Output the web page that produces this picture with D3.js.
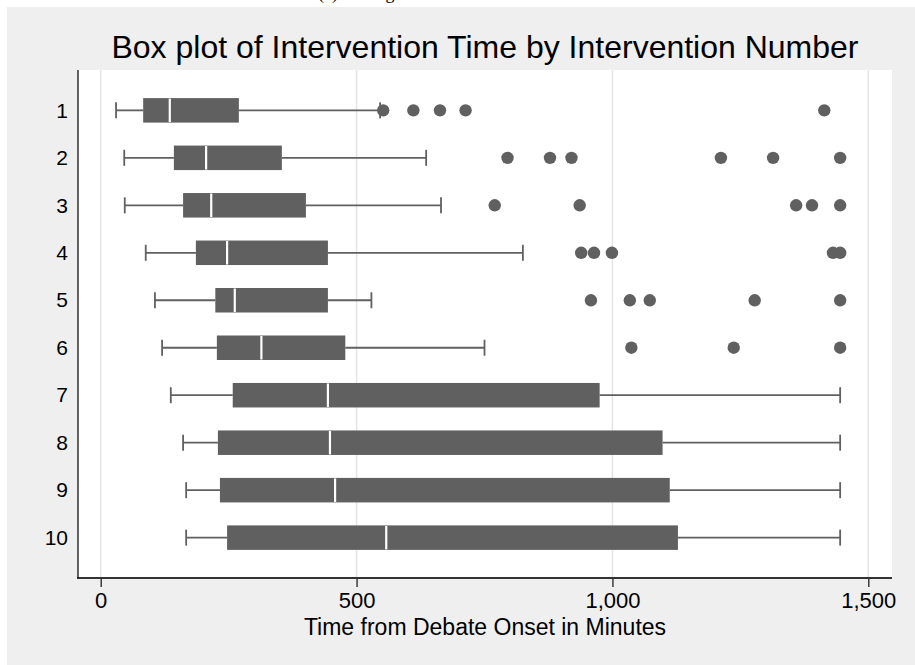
<!DOCTYPE html>
<html>
<head>
<meta charset="utf-8">
<script src="https://cdn.jsdelivr.net/npm/d3@7"></script>
<style>
  html, body { margin: 0; padding: 0; background: #ffffff; }
  svg { display: block; }
  text { font-family: "Liberation Sans", Arial, Helvetica, sans-serif; fill: #000; }
</style>
</head>
<body>
<svg id="chart" width="915" height="665"></svg>
<script>
// Intervention number (one box per row)
const groups = ["1", "2", "3", "4", "5", "6", "7", "8", "9", "10"];
// Five-number summaries, minutes from debate onset
const lowerWhisker = [30, 46, 47, 88, 106, 120, 137, 161, 167, 167];
const q1 = [83, 143, 161, 186, 224, 227, 258, 229, 233, 247];
const median = [135, 206, 216, 247, 262, 314, 444, 448, 458, 558];
const q3 = [270, 354, 401, 444, 444, 478, 975, 1098, 1112, 1128];
const upperWhisker = [546, 636, 665, 825, 529, 750, 1445, 1445, 1445, 1445];
// Outside values per intervention number
const outliers = [
  [552, 611, 663, 713, 1414],
  [795, 878, 920, 1212, 1314, 1445],
  [770, 936, 1359, 1390, 1445],
  [939, 964, 999, 1431, 1445],
  [958, 1034, 1073, 1278, 1445],
  [1037, 1237, 1445],
  [], [], [], []
];
const xTicks = [0, 500, 1000, 1500];

const W = 915, H = 665;
const plot = { left: 78, right: 892, top: 70, bottom: 578 };
const boxColor = "#606060";

const svg = d3.select("#chart");

// figure background (grey panel) with the plot region in white
svg.append("rect").attr("x", 7).attr("y", 7).attr("width", W - 7).attr("height", H - 7)
  .attr("fill", "#efefef");
svg.append("rect").attr("x", plot.left).attr("y", plot.top)
  .attr("width", plot.right - plot.left).attr("height", plot.bottom - plot.top)
  .attr("fill", "#ffffff");

// caption of the page above the figure (only its lowest strokes fall inside the frame)
svg.append("text").attr("x", 318).attr("y", -1.5)
  .style("font-family", "'Liberation Serif', 'Times New Roman', serif")
  .style("font-size", "18px")
  .text("(c) Timing");

const x = d3.scaleLinear().domain([0, 1500]).range([100.7, 868.3]);
const y = d3.scaleLinear().domain([0.15, 10.85]).range([plot.top, plot.bottom]);

// vertical grid lines
svg.append("g").selectAll("line").data(xTicks).join("line")
  .attr("x1", d => x(d)).attr("x2", d => x(d))
  .attr("y1", plot.top).attr("y2", plot.bottom)
  .attr("stroke", "#e4e4e4").attr("stroke-width", 1.5);

// x axis
const xAxis = d3.axisBottom(x).tickValues(xTicks).tickSize(9).tickPadding(5)
  .tickFormat(d3.format(","));
const gx = svg.append("g").attr("transform", `translate(0,${plot.bottom})`).call(xAxis);
gx.select(".domain").remove();
gx.selectAll(".tick line").attr("stroke", "#222").attr("stroke-width", 1.3);
gx.selectAll(".tick text").style("font-size", "22px").attr("fill", "#000")
  .style("font-family", "'Liberation Sans', Arial, sans-serif");
svg.append("line").attr("x1", plot.left - 1).attr("x2", plot.right)
  .attr("y1", plot.bottom).attr("y2", plot.bottom)
  .attr("stroke", "#333").attr("stroke-width", 1.8);

// y axis (category labels, no tick marks)
const yAxis = d3.axisLeft(y).tickValues(d3.range(1, 11)).tickSize(0).tickPadding(10)
  .tickFormat(d => groups[d - 1]);
const gy = svg.append("g").attr("transform", `translate(${plot.left},0)`).call(yAxis);
gy.select(".domain").remove();
gy.selectAll(".tick text").style("font-size", "21px").attr("fill", "#000")
  .style("font-family", "'Liberation Sans', Arial, sans-serif");
svg.append("line").attr("x1", plot.left).attr("x2", plot.left)
  .attr("y1", plot.top).attr("y2", plot.bottom)
  .attr("stroke", "#111").attr("stroke-width", 1.3);

// boxes
const boxH = 24.5, capH = 16;
const rows = groups.map((g, i) => ({
  i, yc: y(i + 1),
  lo: lowerWhisker[i], q1: q1[i], med: median[i], q3: q3[i], hi: upperWhisker[i],
  out: outliers[i]
}));

const gb = svg.append("g");
const row = gb.selectAll("g.row").data(rows).join("g").attr("class", "row");

// whiskers with end caps
row.append("line")
  .attr("x1", d => x(d.lo)).attr("x2", d => x(d.q1))
  .attr("y1", d => d.yc).attr("y2", d => d.yc)
  .attr("stroke", boxColor).attr("stroke-width", 1.8);
row.append("line")
  .attr("x1", d => x(d.q3)).attr("x2", d => x(d.hi))
  .attr("y1", d => d.yc).attr("y2", d => d.yc)
  .attr("stroke", boxColor).attr("stroke-width", 1.8);
row.append("line")
  .attr("x1", d => x(d.lo)).attr("x2", d => x(d.lo))
  .attr("y1", d => d.yc - capH / 2).attr("y2", d => d.yc + capH / 2)
  .attr("stroke", boxColor).attr("stroke-width", 1.8);
row.append("line")
  .attr("x1", d => x(d.hi)).attr("x2", d => x(d.hi))
  .attr("y1", d => d.yc - capH / 2).attr("y2", d => d.yc + capH / 2)
  .attr("stroke", boxColor).attr("stroke-width", 1.8);

// interquartile box
row.append("rect")
  .attr("x", d => x(d.q1)).attr("width", d => x(d.q3) - x(d.q1))
  .attr("y", d => d.yc - boxH / 2).attr("height", boxH)
  .attr("fill", boxColor);

// median
row.append("line")
  .attr("x1", d => x(d.med)).attr("x2", d => x(d.med))
  .attr("y1", d => d.yc - boxH / 2 + 0.5).attr("y2", d => d.yc + boxH / 2 - 0.5)
  .attr("stroke", "#ffffff").attr("stroke-width", 2.2);

// outside values
row.selectAll("circle").data(d => d.out.map(v => ({ v, yc: d.yc }))).join("circle")
  .attr("cx", d => x(d.v)).attr("cy", d => d.yc).attr("r", 6.2)
  .attr("fill", boxColor);

// titles
svg.append("text").attr("x", (plot.left + plot.right) / 2).attr("y", 57.5)
  .attr("text-anchor", "middle").style("font-size", "32px")
  .text("Box plot of Intervention Time by Intervention Number");
svg.append("text").attr("x", (plot.left + plot.right) / 2).attr("y", 635)
  .attr("text-anchor", "middle").style("font-size", "23px")
  .text("Time from Debate Onset in Minutes");
</script>
</body>
</html>
